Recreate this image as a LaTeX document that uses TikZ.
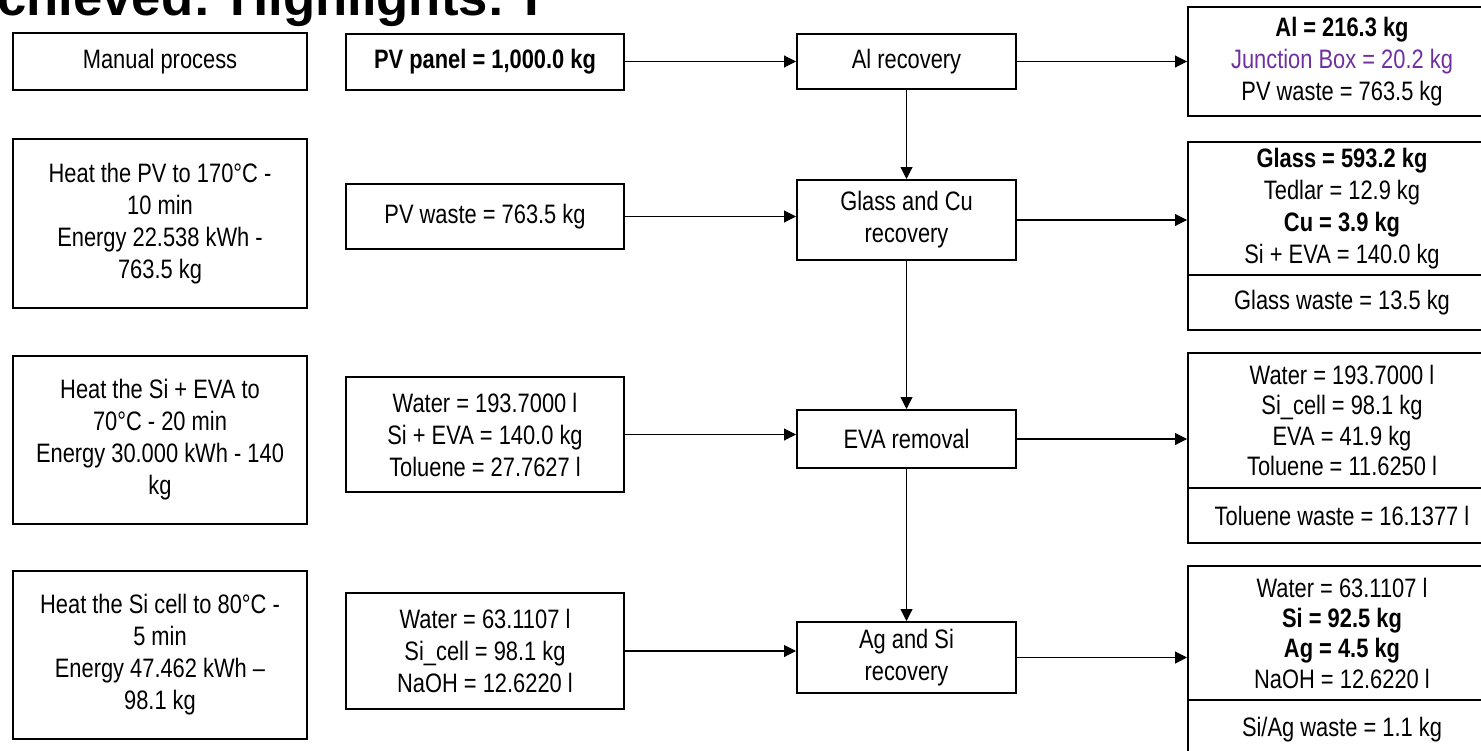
\documentclass[tikz,border=0pt]{standalone}
\usepackage{fontspec}
\setmainfont{Liberation Sans}[FakeStretch=0.82]
\newfontfamily\titlefont{Liberation Sans}
\usepackage{xcolor}
\usepackage{tikz}
\usetikzlibrary{arrows.meta}
\definecolor{jboxpurple}{RGB}{112, 48, 160}

\begin{document}
\begin{tikzpicture}[x=0.75pt,y=0.75pt,yscale=-1,xscale=1,
  box/.style={draw, line width=1.5pt, align=center, inner sep=0pt, font=\fontsize{20}{24}\selectfont},
  tight/.style={font=\fontsize{20}{22.75}\selectfont},
  flow/.style={line width=0.8pt, -{Triangle[length=9pt,width=9pt]}}]
%set diagram to 1481 x 750, everything outside is cut
\clip (0,0) rectangle (1481,750);

% Text Node
\node [anchor=base west, inner sep=0pt, font=\titlefont\fontsize{39.5}{46}\selectfont\bfseries] (title) at (-3,15) {chieved: Highlights: I};

%Shape: Rectangle [left column]
\node [box, minimum width=220.5pt, minimum height=42.75pt] (manual) at (160,61.5) {Manual process};
\node [box, minimum width=220.5pt, minimum height=126.75pt] (heatpv) at (160,223.5) {Heat the PV to 170°C -\\10 min\\Energy 22.538 kWh -\\763.5 kg};
\node [box, minimum width=220.5pt, minimum height=126pt] (heateva) at (160,440) {Heat the Si + EVA to\\70°C - 20 min\\Energy 30.000 kWh - 140\\kg};
\node [box, minimum width=220.5pt, minimum height=126pt] (heatcell) at (160,655) {Heat the Si cell to 80°C -\\5 min\\Energy 47.462 kWh –\\98.1 kg};

%Shape: Rectangle [inputs]
\node [box, minimum width=208.5pt, minimum height=42pt] (pvpanel) at (485,61.5) {\bfseries PV panel = 1,000.0 kg};
\node [box, minimum width=208.5pt, minimum height=48.75pt] (pvwaste) at (485,216.5) {PV waste = 763.5 kg};
\node [box, minimum width=208.5pt, minimum height=86.25pt] (evain) at (485,434.5) {Water = 193.7000 l\\Si + EVA = 140.0 kg\\Toluene = 27.7627 l};
\node [box, minimum width=208.5pt, minimum height=87pt] (agin) at (485,651) {Water = 63.1107 l\\Si\_cell = 98.1 kg\\NaOH = 12.6220 l};

%Shape: Rectangle [process steps]
\node [box, minimum width=164.25pt, minimum height=41.25pt] (alrec) at (906.5,61.5) {Al recovery};
\node [box, minimum width=164.25pt, minimum height=60pt] (glassrec) at (906.5,220) {Glass and Cu\\recovery};
\node [box, minimum width=164.25pt, minimum height=43.5pt] (evarem) at (906.5,439) {EVA removal};
\node [box, minimum width=164.25pt, minimum height=53.25pt] (agrec) at (906.5,657.5) {Ag and Si\\recovery};

%Shape: Rectangle [outputs, cut at the right edge]
\node [box, minimum width=231pt, minimum height=81.75pt] (alout) at (1342,61.5) {{\bfseries Al = 216.3 kg}\\{\color{jboxpurple}Junction Box = 20.2 kg}\\PV waste = 763.5 kg};
\node [box, minimum width=231pt, minimum height=99.75pt] (glassout) at (1342,208.5) {{\bfseries Glass = 593.2 kg}\\Tedlar = 12.9 kg\\{\bfseries Cu = 3.9 kg}\\Si + EVA = 140.0 kg};
\node [box, minimum width=231pt, minimum height=41.25pt] (glasswaste) at (1342,302.5) {Glass waste = 13.5 kg};
\node [box, tight, minimum width=231pt, minimum height=101.25pt] (evaout) at (1342,420.5) {Water = 193.7000 l\\Si\_cell = 98.1 kg\\EVA = 41.9 kg\\Toluene = 11.6250 l};
\node [box, minimum width=231pt, minimum height=41.25pt] (toluwaste) at (1342,515.5) {Toluene waste = 16.1377 l};
\node [box, tight, minimum width=231pt, minimum height=100.5pt] (agout) at (1342,633) {Water = 63.1107 l\\{\bfseries Si = 92.5 kg}\\{\bfseries Ag = 4.5 kg}\\NaOH = 12.6220 l};
\node [box, minimum width=231pt, minimum height=45pt] (agwaste) at (1342,730) {Si/Ag waste = 1.1 kg};

%Straight Lines [inputs to steps]
\draw [flow] (pvpanel.east) -- (pvpanel.east -| alrec.west);
\draw [flow] (pvwaste.east) -- (pvwaste.east -| glassrec.west);
\draw [flow] (evain.east) -- (evain.east -| evarem.west);
\draw [flow] (agin.east) -- (agin.east -| agrec.west);
%Straight Lines [steps to outputs]
\draw [flow] (alrec.east) -- (alrec.east -| alout.west);
\draw [flow] (glassrec.east) -- (glassrec.east -| glassout.west);
\draw [flow] (evarem.east) -- (evarem.east -| evaout.west);
\draw [flow] (agrec.east) -- (agrec.east -| agout.west);
%Straight Lines [step to step]
\draw [flow] (alrec.south) -- (glassrec.north);
\draw [flow] (glassrec.south) -- (evarem.north);
\draw [flow] (evarem.south) -- (agrec.north);

\end{tikzpicture}
\end{document}
